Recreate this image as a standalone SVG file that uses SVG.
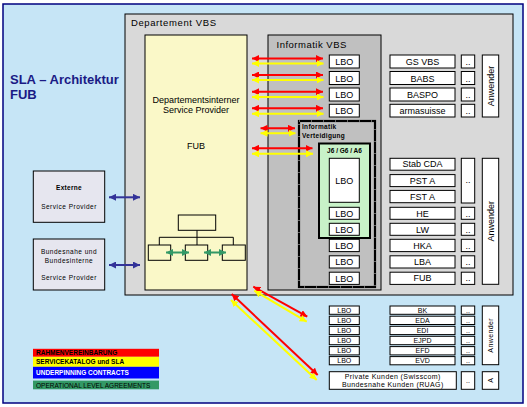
<svg xmlns="http://www.w3.org/2000/svg" width="527" height="407" viewBox="0 0 527 407">
<style>
text{font-family:"Liberation Sans",Arial,sans-serif;fill:#000}
.bx{fill:#fff;stroke:#000;stroke-width:1}
.t9{font-size:9px;text-anchor:middle}
.t8{font-size:8px;text-anchor:middle}
.t7{font-size:7px;text-anchor:middle}
.red{stroke:#ff0000;stroke-width:2;fill:none;marker-start:url(#mr);marker-end:url(#mr)}
.yel{stroke:#ffff00;stroke-width:2;fill:none;marker-start:url(#my);marker-end:url(#my)}
.blu{stroke:#333399;stroke-width:2;fill:none;marker-start:url(#mb);marker-end:url(#mb)}
.grn{stroke:#339966;stroke-width:2;fill:none;marker-start:url(#mg);marker-end:url(#mg)}
.lg{font-size:6.5px;font-weight:bold}
</style>
<defs>
<marker id="mr" viewBox="0 0 8 8" refX="8" refY="4" markerWidth="7" markerHeight="7" markerUnits="userSpaceOnUse" orient="auto-start-reverse"><path d="M0,0L8,4L0,8z" fill="#ff0000"/></marker>
<marker id="my" viewBox="0 0 8 8" refX="8" refY="4" markerWidth="7" markerHeight="7" markerUnits="userSpaceOnUse" orient="auto-start-reverse"><path d="M0,0L8,4L0,8z" fill="#ffff00"/></marker>
<marker id="mb" viewBox="0 0 8 8" refX="8" refY="4" markerWidth="7" markerHeight="7" markerUnits="userSpaceOnUse" orient="auto-start-reverse"><path d="M0,0L8,4L0,8z" fill="#333399"/></marker>
<marker id="mg" viewBox="0 0 8 8" refX="8" refY="4" markerWidth="7" markerHeight="7" markerUnits="userSpaceOnUse" orient="auto-start-reverse"><path d="M0,0L8,4L0,8z" fill="#339966"/></marker>
</defs>

<rect x="3" y="4" width="520" height="399" fill="#C6E5F6" stroke="#000080" stroke-width="1.5"/>
<text x="10" y="84" style="font-size:13px;font-weight:bold;fill:#1A1A85">SLA – Architektur</text>
<text x="10" y="99" style="font-size:13px;font-weight:bold;fill:#1A1A85">FUB</text>

<g id="departement-vbs">
<rect x="125" y="14" width="388" height="281" fill="#D9D9D9" stroke="#000" stroke-width="1"/>
<text x="131" y="26" style="font-size:9.5px;letter-spacing:0.6px">Departement VBS</text>
</g>

<g id="fub">
<rect x="145" y="35" width="102" height="255" fill="#FAF8C8" stroke="#000" stroke-width="1"/>
<text class="t9" x="196" y="103">Departementsinterner</text>
<text class="t9" x="196" y="113">Service Provider</text>
<text class="t9" x="196" y="149">FUB</text>
</g>

<g id="fub-org">
<rect x="178.3" y="215" width="37.4" height="15.3" fill="none" stroke="#000" stroke-width="1"/>
<path d="M197,230.3V237.3M159.3,237.3H233.3M159.3,237.3V245M197,237.3V245M233.3,237.3V245" fill="none" stroke="#000" stroke-width="1"/>
<rect x="148.3" y="245" width="22.4" height="15.3" fill="none" stroke="#000" stroke-width="1"/>
<rect x="185.3" y="245" width="22.4" height="15.3" fill="none" stroke="#000" stroke-width="1"/>
<rect x="222.3" y="245" width="23" height="15.3" fill="none" stroke="#000" stroke-width="1"/>
</g>

<g id="informatik-vbs">
<rect x="268" y="35" width="113" height="255" fill="#C0C0C0" stroke="#000" stroke-width="1"/>
<text x="276.5" y="47.5" style="font-size:9.5px;letter-spacing:0.5px">Informatik VBS</text>
</g>

<g id="informatik-verteidigung">
<rect x="299" y="121" width="76" height="166" fill="#C0C0C0" stroke="#000" stroke-width="2.2"/>
<rect x="299" y="121" width="76" height="166" fill="none" stroke="#fff" stroke-width="0.8" stroke-dasharray="1 11"/>
<text x="302" y="129" style="font-size:6.5px;font-weight:bold;letter-spacing:0.3px">Informatik</text>
<text x="302" y="137.5" style="font-size:6.5px;font-weight:bold;letter-spacing:0.3px">Verteidigung</text>
</g>

<g id="j6-g6-a6">
<rect x="319" y="143.5" width="51" height="94.5" fill="#C8F2C8" stroke="#000" stroke-width="2"/>
<text x="344.5" y="152.5" style="font-size:6.5px;font-weight:bold;text-anchor:middle">J6 / G6 / A6</text>
</g>

<g id="lbo-column">
<rect class="bx" x="329.3" y="55" width="30" height="13"/><text class="t9" x="344.3" y="65">LBO</text>
<rect class="bx" x="329.3" y="71.5" width="30" height="13"/><text class="t9" x="344.3" y="81.5">LBO</text>
<rect class="bx" x="329.3" y="88" width="30" height="13"/><text class="t9" x="344.3" y="98">LBO</text>
<rect class="bx" x="329.3" y="104.3" width="30" height="12.7"/><text class="t9" x="344.3" y="114.3">LBO</text>
<rect class="bx" x="329.3" y="158.3" width="30" height="44"/><text class="t9" x="344.3" y="183.5">LBO</text>
<rect class="bx" x="329.3" y="207.3" width="30" height="12"/><text class="t9" x="344.3" y="216.8">LBO</text>
<rect class="bx" x="329.3" y="223.3" width="30" height="12"/><text class="t9" x="344.3" y="232.8">LBO</text>
<rect class="bx" x="329.3" y="239.3" width="30" height="12.3"/><text class="t9" x="344.3" y="248.8">LBO</text>
<rect class="bx" x="329.3" y="255.8" width="30" height="12.2"/><text class="t9" x="344.3" y="265.3">LBO</text>
<rect class="bx" x="329.3" y="272.2" width="30" height="12.2"/><text class="t9" x="344.3" y="281.7">LBO</text>
</g>

<g id="anwender-group-1">
<rect class="bx" x="390" y="55" width="65" height="13"/><text class="t9" x="422.5" y="65">GS VBS</text>
<rect class="bx" x="390" y="71.5" width="65" height="13"/><text class="t9" x="422.5" y="81.5">BABS</text>
<rect class="bx" x="390" y="88" width="65" height="13"/><text class="t9" x="422.5" y="98">BASPO</text>
<rect class="bx" x="390" y="104.3" width="65" height="12.7"/><text class="t9" x="422.5" y="114.3">armasuisse</text>
<rect class="bx" x="461.3" y="55" width="13.4" height="13"/><text class="t9" x="468" y="65">..</text>
<rect class="bx" x="461.3" y="71.5" width="13.4" height="13"/><text class="t9" x="468" y="81.5">..</text>
<rect class="bx" x="461.3" y="88" width="13.4" height="13"/><text class="t9" x="468" y="98">..</text>
<rect class="bx" x="461.3" y="104.3" width="13.4" height="12.7"/><text class="t9" x="468" y="114.3">..</text>
<rect class="bx" x="482.3" y="55" width="16.4" height="62"/><text class="t9" transform="translate(493.8,86) rotate(-90)">Anwender</text>
</g>

<g id="anwender-group-2">
<rect class="bx" x="390" y="158.3" width="65" height="11.9"/><text class="t9" x="422.5" y="167.3">Stab CDA</text>
<rect class="bx" x="390" y="174.6" width="65" height="12"/><text class="t9" x="422.5" y="183.8">PST A</text>
<rect class="bx" x="390" y="190.4" width="65" height="12.3"/><text class="t9" x="422.5" y="199.7">FST A</text>
<rect class="bx" x="390" y="207.3" width="65" height="12"/><text class="t9" x="422.5" y="216.5">HE</text>
<rect class="bx" x="390" y="223.3" width="65" height="12"/><text class="t9" x="422.5" y="232.5">LW</text>
<rect class="bx" x="390" y="239.3" width="65" height="12.3"/><text class="t9" x="422.5" y="248.6">HKA</text>
<rect class="bx" x="390" y="255.8" width="65" height="12.2"/><text class="t9" x="422.5" y="265">LBA</text>
<rect class="bx" x="390" y="272.2" width="65" height="12.2"/><text class="t9" x="422.5" y="281.4">FUB</text>
<rect class="bx" x="461.3" y="158.3" width="13.4" height="44.7"/><text class="t9" x="468" y="183">..</text>
<rect class="bx" x="461.3" y="207.3" width="13.4" height="12"/><text class="t9" x="468" y="216.5">..</text>
<rect class="bx" x="461.3" y="223.3" width="13.4" height="12"/><text class="t9" x="468" y="232.5">..</text>
<rect class="bx" x="461.3" y="239.3" width="13.4" height="12.3"/><text class="t9" x="468" y="248.6">..</text>
<rect class="bx" x="461.3" y="255.8" width="13.4" height="12.2"/><text class="t9" x="468" y="265">..</text>
<rect class="bx" x="461.3" y="272.2" width="13.4" height="12.2"/><text class="t9" x="468" y="281.4">..</text>
<rect class="bx" x="482.3" y="158.3" width="16.4" height="126"/><text class="t9" transform="translate(493.8,221.3) rotate(-90)">Anwender</text>
</g>

<g id="anwender-group-3">
<rect class="bx" x="329.3" y="306" width="30" height="8.3"/><text class="t7" x="344.3" y="312.5">LBO</text>
<rect class="bx" x="329.3" y="316.2" width="30" height="8.3"/><text class="t7" x="344.3" y="322.7">LBO</text>
<rect class="bx" x="329.3" y="326.3" width="30" height="8.3"/><text class="t7" x="344.3" y="332.8">LBO</text>
<rect class="bx" x="329.3" y="336.3" width="30" height="8.4"/><text class="t7" x="344.3" y="342.8">LBO</text>
<rect class="bx" x="329.3" y="346.6" width="30" height="8.3"/><text class="t7" x="344.3" y="353.1">LBO</text>
<rect class="bx" x="329.3" y="356.6" width="30" height="8.2"/><text class="t7" x="344.3" y="363.1">LBO</text>
<rect class="bx" x="390" y="306" width="65" height="8.3"/><text class="t7" x="422.5" y="312.5">BK</text>
<rect class="bx" x="390" y="316.2" width="65" height="8.3"/><text class="t7" x="422.5" y="322.7">EDA</text>
<rect class="bx" x="390" y="326.3" width="65" height="8.3"/><text class="t7" x="422.5" y="332.8">EDI</text>
<rect class="bx" x="390" y="336.3" width="65" height="8.4"/><text class="t7" x="422.5" y="342.8">EJPD</text>
<rect class="bx" x="390" y="346.6" width="65" height="8.3"/><text class="t7" x="422.5" y="353.1">EFD</text>
<rect class="bx" x="390" y="356.6" width="65" height="8.2"/><text class="t7" x="422.5" y="363.1">EVD</text>
<rect class="bx" x="461.3" y="306" width="13.4" height="8.3"/><text class="t7" x="468" y="312.5">..</text>
<rect class="bx" x="461.3" y="316.2" width="13.4" height="8.3"/><text class="t7" x="468" y="322.7">..</text>
<rect class="bx" x="461.3" y="326.3" width="13.4" height="8.3"/><text class="t7" x="468" y="332.8">..</text>
<rect class="bx" x="461.3" y="336.3" width="13.4" height="8.4"/><text class="t7" x="468" y="342.8">..</text>
<rect class="bx" x="461.3" y="346.6" width="13.4" height="8.3"/><text class="t7" x="468" y="353.1">..</text>
<rect class="bx" x="461.3" y="356.6" width="13.4" height="8.2"/><text class="t7" x="468" y="363.1">..</text>
<rect class="bx" x="482.3" y="306" width="16.4" height="58.7"/><text class="t7" transform="translate(492.8,335.3) rotate(-90)" style="letter-spacing:0.4px">Anwender</text>
</g>

<g id="private-kunden">
<rect class="bx" x="329.3" y="371.7" width="127" height="17.6"/>
<text class="t7" x="392.8" y="379" style="letter-spacing:0.4px">Private Kunden (Swisscom)</text>
<text class="t7" x="392.8" y="387" style="letter-spacing:0.4px">Bundesnahe Kunden (RUAG)</text>
<rect class="bx" x="461.3" y="371.7" width="13.4" height="17.6"/><text class="t7" x="468" y="383">..</text>
<rect class="bx" x="482.3" y="371.7" width="16.4" height="17.6"/><text class="t7" transform="translate(492.8,380.5) rotate(-90)">A</text>
</g>

<g id="externe-sp">
<rect x="33.3" y="171" width="71.4" height="51.3" fill="#E6E6EF" stroke="#000" stroke-width="1"/>
<text x="69" y="190" style="font-size:6.5px;font-weight:bold;text-anchor:middle;letter-spacing:0.3px">Externe</text>
<text x="69" y="208.5" style="font-size:6.5px;text-anchor:middle;letter-spacing:0.5px">Service Provider</text>
</g>

<g id="bundesnahe-sp">
<rect x="33.3" y="239" width="71.4" height="51" fill="#E6E6EF" stroke="#000" stroke-width="1"/>
<text x="69" y="254" style="font-size:6.5px;text-anchor:middle;letter-spacing:0.5px">Bundesnahe und</text>
<text x="69" y="263" style="font-size:6.5px;text-anchor:middle;letter-spacing:0.5px">Bundesinterne</text>
<text x="69" y="280" style="font-size:6.5px;text-anchor:middle;letter-spacing:0.5px">Service Provider</text>
</g>

<g id="legend">
<rect x="33" y="348.8" width="126" height="8" fill="#ff0000"/>
<text class="lg" x="36" y="355.3">RAHMENVEREINBARUNG</text>
<rect x="33" y="356.8" width="126" height="10" fill="#ffff00"/>
<text class="lg" x="36" y="364.3">SERVICEKATALOG und SLA</text>
<rect x="33" y="366.8" width="126" height="11.7" fill="#0000ff"/>
<text class="lg" x="36" y="375" style="fill:#fff">UNDERPINNING CONTRACTS</text>
<rect x="33" y="380.6" width="126" height="8.7" fill="#339966"/>
<text class="lg" x="36" y="387.5" style="font-weight:normal">OPERATIONAL LEVEL AGREEMENTS</text>
</g>

<g id="connectors">
<line class="red" x1="252" y1="58.5" x2="323" y2="58.5"/>
<line class="yel" x1="252" y1="63.5" x2="323.5" y2="63.5"/>
<line class="red" x1="252" y1="75" x2="323" y2="75"/>
<line class="yel" x1="252" y1="80" x2="323.5" y2="80"/>
<line class="red" x1="252" y1="91.7" x2="323" y2="91.7"/>
<line class="yel" x1="252" y1="97" x2="323.5" y2="97"/>
<line class="red" x1="252" y1="108.3" x2="323" y2="108.3"/>
<line class="yel" x1="252" y1="113.7" x2="323.5" y2="113.7"/>
<line class="red" x1="260.5" y1="128.3" x2="295" y2="128.3"/>
<line class="yel" x1="260.5" y1="133.3" x2="295.5" y2="133.3"/>
<line class="red" x1="252" y1="148.3" x2="312.5" y2="148.3"/>
<line class="yel" x1="252" y1="153.8" x2="313" y2="153.8"/>
<line class="red" x1="253.3" y1="286.7" x2="307.3" y2="316.7"/>
<line class="yel" x1="254.3" y1="290.7" x2="306.7" y2="321.7"/>
<line class="red" x1="231.7" y1="294" x2="317.7" y2="375"/>
<line class="yel" x1="231" y1="300" x2="316.7" y2="380"/>
<line class="blu" x1="109" y1="197.3" x2="140" y2="197.3"/>
<line class="blu" x1="109" y1="265" x2="140" y2="265"/>
<line class="grn" x1="166" y1="252.5" x2="189" y2="252.5"/>
<line class="grn" x1="204" y1="252.5" x2="226" y2="252.5"/>
</g>
</svg>
